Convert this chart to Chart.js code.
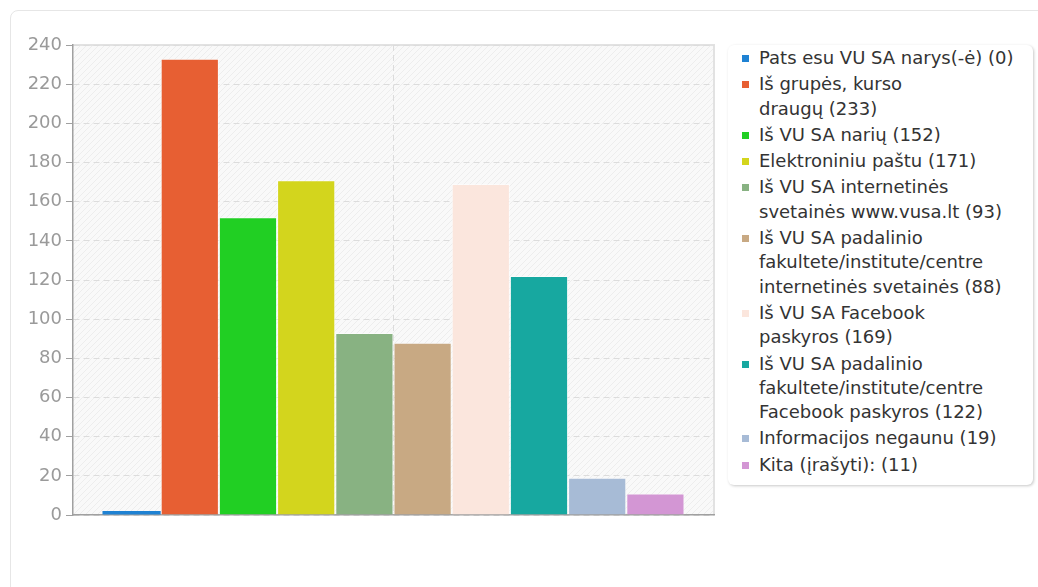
<!DOCTYPE html>
<html>
<head>
<meta charset="utf-8">
<script src="https://cdn.jsdelivr.net/npm/chart.js@4/dist/chart.umd.min.js"></script>
<style>
  body { margin: 0; background: #fff; font-family: "DejaVu Sans", sans-serif; }
  .card { position: absolute; left: 10px; top: 10px; width: 1100px; height: 700px;
    border: 1px solid #e6e6e6; border-radius: 8px; background: #fff; }
  #chartWrap { position: absolute; left: 0; top: 0; width: 720px; height: 560px; }
  .legend-box { position: absolute; left: 728px; top: 45px; width: 305px; padding: 1px 0 6px 0;
    background: #fff; border-radius: 6px; box-shadow: 1px 1px 3px rgba(0,0,0,0.22); }
  .legend-box ul { list-style: none; margin: 0; padding: 0; }
  .legend-box li { position: relative; padding-left: 31px; margin-bottom: 2px; font-size: 18px; line-height: 24.3px; color: #333; white-space: nowrap; }
  .legend-box li span.sw { position: absolute; left: 14px; top: 9px; width: 7px; height: 7px; }
</style>
</head>
<body>
<div class="card"></div>
<div id="chartWrap"><canvas id="answersChart"></canvas></div>
<div class="legend-box"><ul id="answersLegend"></ul></div>
<script>
// answer options (legend lines) and counts
const answerNames = [
  ['Pats esu VU SA narys(-ė)'],
  ['Iš grupės, kurso', 'draugų'],
  ['Iš VU SA narių'],
  ['Elektroniniu paštu'],
  ['Iš VU SA internetinės', 'svetainės www.vusa.lt'],
  ['Iš VU SA padalinio', 'fakultete/institute/centre', 'internetinės svetainės'],
  ['Iš VU SA Facebook', 'paskyros'],
  ['Iš VU SA padalinio', 'fakultete/institute/centre', 'Facebook paskyros'],
  ['Informacijos negaunu'],
  ['Kita (įrašyti):']
];
const answerCounts = [0, 233, 152, 171, 93, 88, 169, 122, 19, 11];
const answerColors = ['#1f82d3', '#e75f33', '#21cf23', '#d3d51d', '#88b282',
  '#c8a983', '#fbe6dd', '#17a8a0', '#a7bbd6', '#d396d4'];
const yTicks = [0, 20, 40, 60, 80, 100, 120, 140, 160, 180, 200, 220, 240];

// hatched plot background + light top/right frame
const plotBackground = {
  id: 'plotBackground',
  beforeDraw(chart) {
    const { ctx, chartArea: a } = chart;
    const p = document.createElement('canvas');
    p.width = 6; p.height = 6;
    const pc = p.getContext('2d');
    pc.fillStyle = '#f9f9f9';
    pc.fillRect(0, 0, 6, 6);
    pc.strokeStyle = '#ededed';
    pc.lineWidth = 1;
    pc.beginPath();
    pc.moveTo(0, 6); pc.lineTo(6, 0);
    pc.moveTo(-3, 3); pc.lineTo(3, -3);
    pc.moveTo(3, 9); pc.lineTo(9, 3);
    pc.stroke();
    ctx.save();
    ctx.fillStyle = ctx.createPattern(p, 'repeat');
    ctx.fillRect(a.left, a.top, a.right - a.left, a.bottom - a.top);
    ctx.strokeStyle = '#e2e2e2';
    ctx.lineWidth = 2;
    ctx.beginPath();
    ctx.moveTo(a.left, a.top);
    ctx.lineTo(a.right, a.top);
    ctx.lineTo(a.right, a.bottom);
    ctx.stroke();
    ctx.restore();
  }
};

const answersChart = new Chart(document.getElementById('answersChart'), {
  type: 'bar',
  data: {
    labels: [''],
    datasets: answerNames.map((name, i) => ({
      label: name.join(' ') + ' (' + answerCounts[i] + ')',
      data: [answerCounts[i]],
      backgroundColor: answerColors[i],
      borderColor: 'rgba(255,255,255,0.55)',
      borderWidth: answerCounts[i] > 0 ? 1 : 0,
      minBarLength: 4
    }))
  },
  options: {
    responsive: true,
    maintainAspectRatio: false,
    animation: false,
    layout: { padding: { left: 10, top: 45, right: 6, bottom: 45 } },
    datasets: { bar: { categoryPercentage: 0.908, barPercentage: 1 } },
    scales: {
      x: {
        grid: { offset: false, color: '#dcdcdc', drawTicks: false },
        border: { color: '#a0a0a0', width: 1.5, dash: [6, 4] },
        ticks: { display: false },
        afterFit(scale) { scale.height = 0; }
      },
      y: {
        min: 0,
        max: 240,
        afterBuildTicks(scale) { scale.ticks = yTicks.map(v => ({ value: v })); },
        grid: { color: '#dcdcdc', tickLength: 7, tickColor: '#a0a0a0', tickBorderDash: [] },
        border: { color: '#a0a0a0', width: 1.5, dash: [6, 4] },
        ticks: { color: '#9a9a9a', padding: 4, font: { family: 'DejaVu Sans', size: 18 } },
        afterFit(scale) { scale.width = 63; }
      }
    },
    plugins: {
      legend: { display: false },
      tooltip: { enabled: false }
    }
  },
  plugins: [plotBackground]
});

// html legend with wrapped lines
const legendList = document.getElementById('answersLegend');
answerNames.forEach((name, i) => {
  const li = document.createElement('li');
  const sw = document.createElement('span');
  sw.className = 'sw';
  sw.style.background = answerColors[i];
  li.appendChild(sw);
  const lines = name.slice();
  lines[lines.length - 1] += ' (' + answerCounts[i] + ')';
  lines.forEach((line, j) => {
    if (j > 0) li.appendChild(document.createElement('br'));
    li.appendChild(document.createTextNode(line));
  });
  legendList.appendChild(li);
});
</script>
</body>
</html>
